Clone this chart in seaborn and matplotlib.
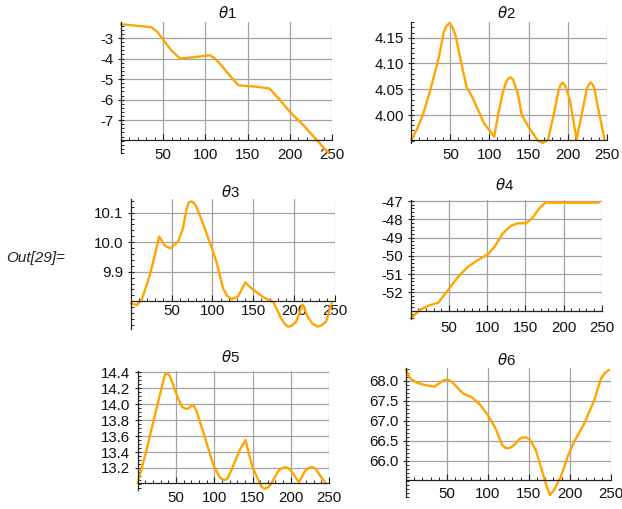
import matplotlib
matplotlib.use('Agg')
import matplotlib.pyplot as plt
import seaborn as sns
import pandas as pd
from matplotlib.ticker import MultipleLocator, FixedLocator, FixedFormatter

sns.set_theme(style='white')
plt.rcParams['font.family'] = ['Liberation Sans', 'DejaVu Sans']
plt.rcParams['axes.unicode_minus'] = False
plt.rcParams['mathtext.fontset'] = 'dejavusans'

# ---------------- data ----------------
x1 = [0, 36, 43, 50, 60, 70, 90, 105, 111, 117, 128, 139, 160, 176, 188, 200, 216, 230, 246]
y1 = [-2.33, -2.47, -2.70, -3.08, -3.62, -4.0, -3.92, -3.84, -3.98, -4.24, -4.78, -5.30,
      -5.37, -5.46, -6.0, -6.59, -7.24, -7.88, -8.6]

x2 = [0, 7, 14.7, 24.2, 35, 41.4, 45, 48.7, 52, 56.5, 63, 70.7, 78, 93, 106, 111, 116.8,
      121, 123.8, 126.6, 129.4, 131.5, 136.2, 141.3, 151.2, 162, 168.5, 175, 183.5, 188,
      190.8, 193.4, 196, 198.5, 202.9, 211.5, 220, 224.5, 227, 229.6, 232.2, 234.5, 238.6,
      247.3]
y2 = [3.952, 3.972, 4.000, 4.048, 4.110, 4.160, 4.173, 4.178, 4.172, 4.155, 4.107, 4.054,
      4.035, 3.984, 3.958, 4.000, 4.042, 4.063, 4.070, 4.073, 4.070, 4.063, 4.042, 4.000,
      3.974, 3.950, 3.946, 3.952, 4.010, 4.045, 4.058, 4.063, 4.059, 4.050, 4.029, 3.953,
      4.016, 4.050, 4.059, 4.063, 4.059, 4.050, 4.016, 3.952]

x3 = [0, 7.3, 13.4, 23.5, 29.6, 34.9, 41.8, 48.8, 58, 64, 68, 71, 74.4, 77.5, 80.5, 90.6,
      100, 104.9, 113, 118, 123.2, 131.2, 140.2, 147.6, 161.7, 174.8, 184.1, 188, 192.2,
      196.5, 202.4, 210.5, 216.6, 222, 228.8, 233.5, 239, 245.9]
y3 = [9.793, 9.787, 9.804, 9.889, 9.957, 10.019, 9.988, 9.979, 10.002, 10.047, 10.108,
      10.134, 10.138, 10.132, 10.120, 10.047, 9.974, 9.934, 9.844, 9.818, 9.807, 9.815,
      9.864, 9.844, 9.815, 9.796, 9.742, 9.725, 9.714, 9.716, 9.731, 9.789, 9.747, 9.725,
      9.714, 9.718, 9.731, 9.793]

x4 = [0, 12.1, 23, 36, 49, 62, 75, 88, 101, 109.8, 120.6, 131.5, 140.1, 151, 159.6,
      168.4, 176.2, 246]
y4 = [-53.42, -52.97, -52.73, -52.57, -51.87, -51.15, -50.60, -50.23, -49.92, -49.50,
      -48.77, -48.35, -48.22, -48.22, -47.91, -47.40, -47.09, -47.09]

x5 = [0, 11.7, 22.6, 29.1, 34, 36.6, 39.5, 42.2, 50.9, 57.4, 63, 67, 70.5, 73.5, 77, 87.9,
      98.7, 107.4, 111, 114, 117.5, 122.7, 133.5, 141, 148.8, 157.4, 162, 166.2, 170.5,
      174.9, 183.6, 188, 192.3, 196.5, 201, 210.6, 218.4, 223, 227.2, 231.5, 235.8, 245.4]
y5 = [13.01, 13.43, 13.87, 14.12, 14.32, 14.39, 14.38, 14.35, 14.12, 13.97, 13.94, 13.95,
      13.99, 13.98, 13.91, 13.58, 13.24, 13.08, 13.055, 13.05, 13.07, 13.18, 13.43, 13.55,
      13.24, 13.05, 12.96, 12.94, 12.96, 13.01, 13.16, 13.195, 13.21, 13.20, 13.16, 13.02,
      13.16, 13.20, 13.21, 13.20, 13.14, 13.01]

x6 = [0, 4.9, 13.1, 23.3, 34.8, 41.8, 46, 50, 54, 58.1, 69.6, 80.7, 90.9, 99.9, 109.3,
      117.5, 121.5, 125.7, 129.5, 133.9, 138, 142.1, 146.5, 151.1, 158.5, 164.6, 170.8,
      175.7, 181, 189.2, 197.4, 205.5, 217.8, 230.1, 238.3, 243, 247.8]
y6 = [68.28, 68.06, 67.95, 67.89, 67.85, 67.95, 68.01, 68.03, 68.0, 67.93, 67.68, 67.58,
      67.39, 67.14, 66.81, 66.39, 66.32, 66.31, 66.35, 66.43, 66.53, 66.58, 66.58, 66.53,
      66.27, 65.85, 65.43, 65.14, 65.27, 65.60, 66.10, 66.48, 66.93, 67.52, 68.06, 68.19,
      68.27]

titles = [r'$\theta$1', r'$\theta$2', r'$\theta$3', r'$\theta$4', r'$\theta$5', r'$\theta$6']
xticks = [50, 100, 150, 200, 250]
xtick_labels = ['50', '100', '150', '200', '250']
yticks_all = [
    [-7, -6, -5, -4, -3],
    [4.00, 4.05, 4.10, 4.15],
    [9.9, 10.0, 10.1],
    [-52, -51, -50, -49, -48, -47],
    [13.2, 13.4, 13.6, 13.8, 14.0, 14.2, 14.4],
    [66.0, 66.5, 67.0, 67.5, 68.0],
]
ytick_labels_all = [
    ['-7', '-6', '-5', '-4', '-3'],
    ['4.00', '4.05', '4.10', '4.15'],
    ['9.9', '10.0', '10.1'],
    ['-52', '-51', '-50', '-49', '-48', '-47'],
    ['13.2', '13.4', '13.6', '13.8', '14.0', '14.2', '14.4'],
    ['66.0', '66.5', '67.0', '67.5', '68.0'],
]
series = [(x1, y1), (x2, y2), (x3, y3), (x4, y4), (x5, y5), (x6, y6)]

# ---------------- layout / style ----------------
W, H = 622, 509
rects = [
    (0.1945, 0.6994, 0.3392, 0.2574),
    (0.6613, 0.7183, 0.3141, 0.2391),
    (0.2101, 0.3536, 0.3285, 0.2554),
    (0.6603, 0.3737, 0.3071, 0.2332),
    (0.2214, 0.0367, 0.3076, 0.2350),
    (0.6527, 0.0242, 0.3291, 0.2523),
]
ylims = [(-8.6, -2.22), (3.945, 4.181), (9.706, 10.146), (-53.45, -46.95),
         (12.92, 14.42), (65.1, 68.31)]
origins = [-7.97, 3.952, 9.80, -53.05, 13.01, 65.52]
minor_steps = [0.2, 0.01, 0.02, 0.2, 0.05, 0.1]
xpads = [6.0, 6.0, 2.2, 6.5, 6.0, 4.8]
title_pos = [(227, 13), (506.7, 13.3), (230, 191.7), (505, 185), (230, 356.7), (506.7, 360)]

LINE = '#FFA500'
GRID = '#a3a3a3'
AXC = '#222222'
FS = 10.8

fig = plt.figure(figsize=(W / 100, H / 100), dpi=100)
fig.patch.set_facecolor('white')

for i in range(6):
    ax = fig.add_axes(rects[i])
    ax.set_facecolor('none')
    xs, ys = series[i]
    df = pd.DataFrame({'x': xs, 'y': ys})
    lo, hi = ylims[i]
    y0 = origins[i]
    ax.set_xlim(0, 250)
    ax.set_ylim(lo, hi)
    frac = (y0 - lo) / (hi - lo)
    for xv in xticks:
        ax.axvline(xv, ymin=frac, ymax=1, color=GRID, lw=0.9, zorder=0)
    for yv in yticks_all[i]:
        ax.axhline(yv, color=GRID, lw=0.9, zorder=0)
    sns.lineplot(data=df, x='x', y='y', ax=ax, color=LINE, lw=1.7, sort=False,
                 estimator=None, zorder=3, clip_on=False)
    ax.lines[-1].set_solid_joinstyle('round')
    ax.set_xlabel('')
    ax.set_ylabel('')
    for s in ['top', 'right']:
        ax.spines[s].set_visible(False)
    ax.spines['left'].set_position(('data', 0))
    ax.spines['bottom'].set_position(('data', y0))
    for s in ['left', 'bottom']:
        ax.spines[s].set_color(AXC)
        ax.spines[s].set_linewidth(0.9)
        ax.spines[s].set_zorder(4)
    ax.xaxis.set_major_locator(FixedLocator(xticks))
    ax.xaxis.set_major_formatter(FixedFormatter(xtick_labels))
    ax.xaxis.set_minor_locator(MultipleLocator(10))
    ax.yaxis.set_major_locator(FixedLocator(yticks_all[i]))
    ax.yaxis.set_major_formatter(FixedFormatter(ytick_labels_all[i]))
    ax.yaxis.set_minor_locator(MultipleLocator(minor_steps[i]))
    ax.tick_params(axis='x', which='major', direction='in', length=4, width=0.8,
                   color=AXC, pad=xpads[i], labelsize=FS, labelcolor='#111111',
                   bottom=True)
    ax.tick_params(axis='x', which='minor', direction='in', length=2.5, width=0.7,
                   color=AXC, bottom=True)
    ax.tick_params(axis='y', which='major', direction='inout', length=5, width=0.8,
                   color=AXC, pad=3.0, labelsize=FS, labelcolor='#111111', left=True)
    ax.tick_params(axis='y', which='minor', direction='in', length=2.5, width=0.7,
                   color=AXC, left=True)
    ax.grid(False)
    tx, ty = title_pos[i]
    fig.text(tx / W, 1 - ty / H, titles[i], ha='center', va='center', fontsize=FS,
             color='#111111')

fig.text(6 / W, 1 - 258 / H, 'Out[29]=', ha='left', va='center', fontsize=11,
         style='italic', color='#222222')

fig.savefig('out.png', dpi=100, facecolor='white')
